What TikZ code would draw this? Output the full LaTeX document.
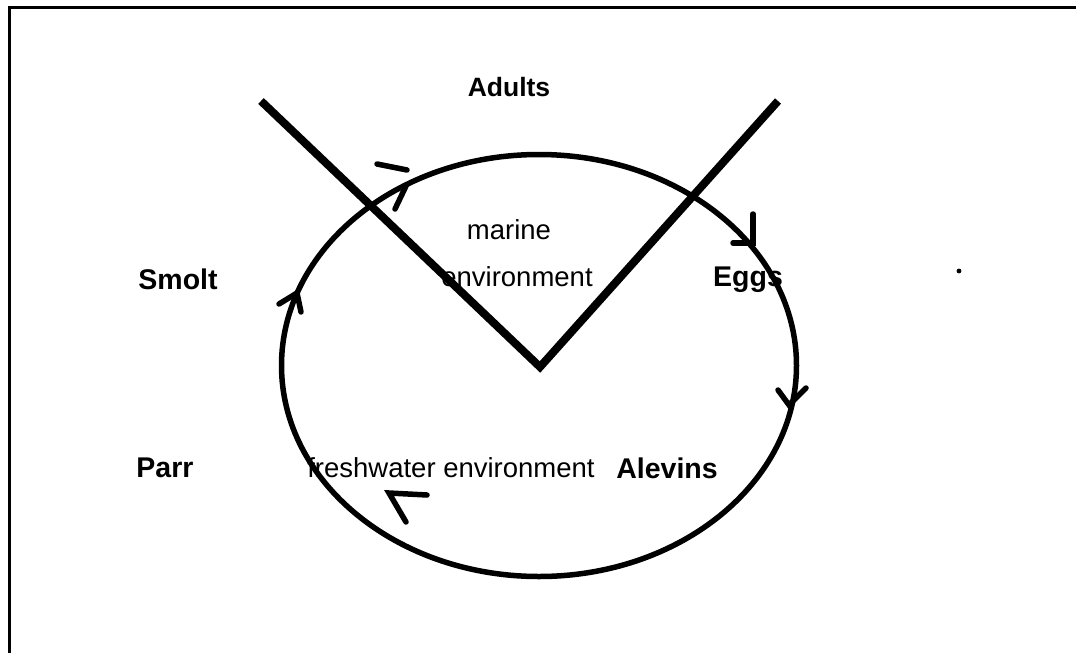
\documentclass[tikz,border=0pt]{standalone}
\usepackage{fontspec}
\setmainfont{Liberation Sans}
\usetikzlibrary{shapes.geometric}
\tikzset{
  lbl/.style={font=\fontsize{28.5}{30}\selectfont\bfseries, inner sep=0pt},
  env/.style={font=\fontsize{27.5}{30}\selectfont, inner sep=0pt},
  tick/.style={line width=5.5pt, line cap=round},
  frame/.style={line width=3pt},
}
\begin{document}
\begin{tikzpicture}[x=1pt,y=-1pt]
\useasboundingbox (0,0) rectangle (1076,653);
% frame (top and left)
\coordinate (fa) at (1076,7.5);
\coordinate (fb) at (9.5,7.5);
\coordinate (fc) at (9.5,653);
\draw[frame] (fa) -- (fb) -- (fc);
% cycle
\node[draw, ellipse, line width=5.5pt, minimum width=515pt, minimum height=422pt, inner sep=0pt] (cyc) at (539,365.5) {};
% V
\coordinate (vl) at (261,101);
\coordinate (vb) at (540,367);
\coordinate (vr) at (778,101);
\draw[line width=8pt, line join=miter] (vl) -- (vb) -- (vr);
% labels
\node[lbl, font=\fontsize{26.5}{30}\selectfont\bfseries] (adults) at (509,87) {Adults};
\node[lbl] (smolt) at (178,279) {Smolt};
\node[lbl] (eggs) at (748,280) {Eggs};
\node[lbl] (parr) at (165,468) {Parr};
\node[lbl] (alevins) at (667,468) {Alevins};
\node[env] (marine) at (509,230) {marine};
\node[env] (menv) at (517,277) {environment};
\node[env] (fenv) at (451,468) {freshwater environment};
% arrow marks
\coordinate (a1a) at (377,164); \coordinate (a1b) at (407,170);
\draw[tick] (a1a) -- (a1b);
\coordinate (a1c) at (395,209); \coordinate (a1d) at (406,186);
\draw[tick] (a1c) -- (a1d);
\coordinate (a2a) at (753,214); \coordinate (a2b) at (753,243); \coordinate (a2c) at (733,243);
\draw[tick] (a2a) -- (a2b) -- (a2c);
\coordinate (a3a) at (778,390); \coordinate (a3t) at (789,405); \coordinate (a3b) at (806,388);
\draw[tick, line join=miter] (a3a) -- (a3t) -- (a3b);
\coordinate (a4a) at (427,495); \coordinate (a4t) at (389,493); \coordinate (a4b) at (406,522);
\draw[tick, line join=miter] (a4a) -- (a4t) -- (a4b);
\coordinate (a5a) at (279,304); \coordinate (a5t) at (297,293); \coordinate (a5b) at (301,312);
\draw[tick, line join=miter] (a5a) -- (a5t) -- (a5b);
% speck
\fill (959,271) circle (2.4pt);
\end{tikzpicture}
\end{document}
